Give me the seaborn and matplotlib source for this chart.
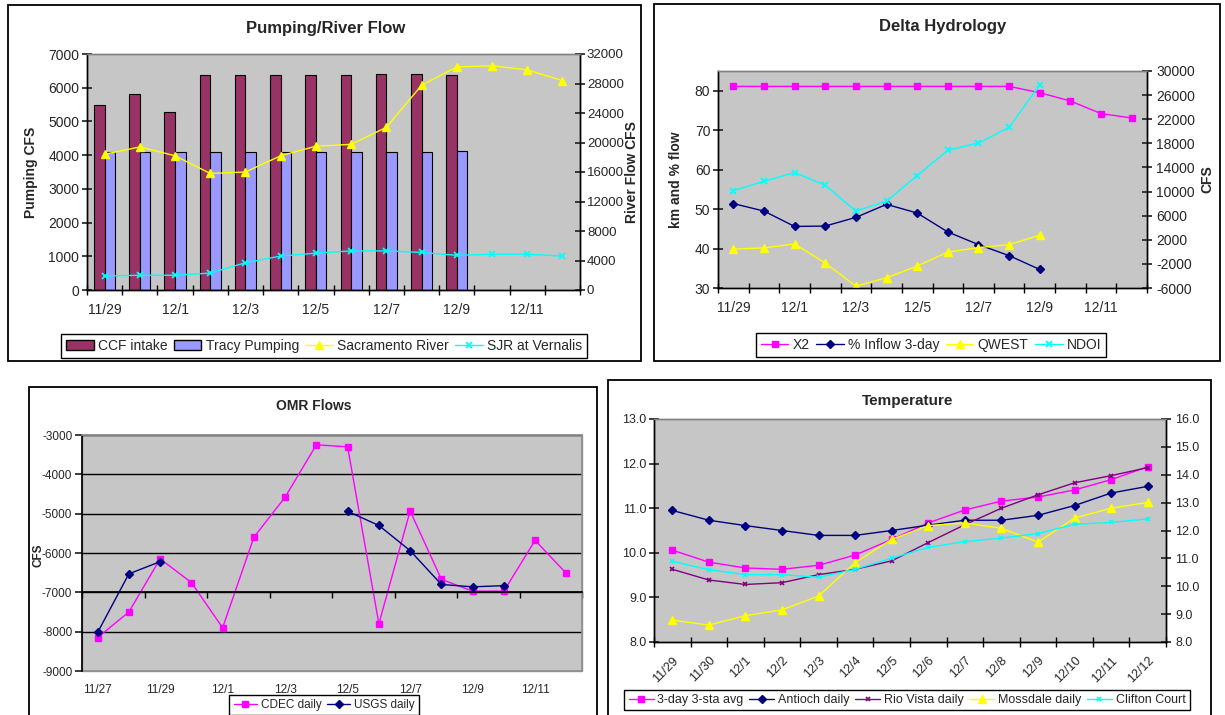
import numpy as np
import pandas as pd
import matplotlib
matplotlib.use("Agg")
import matplotlib.pyplot as plt
import seaborn as sns
from matplotlib.lines import Line2D
from matplotlib.patches import Patch, Rectangle

sns.set_theme(style="white")
plt.rcParams['font.family'] = ['Liberation Sans', 'DejaVu Sans']
plt.rcParams['axes.unicode_minus'] = False

# ---------------- data ----------------
dates14 = ['11/29', '11/30', '12/1', '12/2', '12/3', '12/4', '12/5', '12/6',
           '12/7', '12/8', '12/9', '12/10', '12/11', '12/12']

ccf_intake = [5480, 5800, 5280, 6370, 6370, 6370, 6370, 6370, 6400, 6400, 6370]
tracy_pumping = [4100, 4100, 4080, 4100, 4100, 4100, 4100, 4100, 4100, 4100, 4130]
sacramento = [18400, 19400, 18200, 15800, 16000, 18200, 19500, 19750, 22050,
              27750, 30250, 30400, 29850, 28400]
sjr_vernalis = [1900, 2000, 2000, 2300, 3700, 4600, 5000, 5300, 5300, 5100,
                4700, 4850, 4850, 4600]

x2 = [81.1, 81.1, 81.1, 81.1, 81.1, 81.1, 81.1, 81.1, 81.1, 81.1, 79.5, 77.4, 74.2, 73.1]
inflow_3day = [51.4, 49.5, 45.6, 45.7, 47.9, 51.2, 49.0, 44.2, 41.0, 38.2, 34.7]
qwest = [450, 650, 1300, -1850, -5700, -4300, -2350, -50, 700, 1200, 2750]
ndoi = [10150, 11700, 13150, 11050, 6750, 8400, 12650, 16850, 18050, 20650, 27700]

omr_dates = ['11/27', '11/28', '11/29', '11/30', '12/1', '12/2', '12/3', '12/4',
             '12/5', '12/6', '12/7', '12/8', '12/9', '12/10', '12/11', '12/12']
cdec_daily = [-8150, -7500, -6150, -6750, -7900, -5600, -4580, -3250, -3300,
              -7800, -4930, -6670, -6970, -6970, -5680, -6520]
usgs_daily = [-8020, -6530, -6220, np.nan, np.nan, np.nan, np.nan, np.nan,
              -4940, -5300, -5940, -6800, -6860, -6830, np.nan, np.nan]

temp_3day_avg = [10.06, 9.79, 9.66, 9.63, 9.72, 9.95, 10.30, 10.67, 10.96, 11.16,
                 11.25, 11.41, 11.64, 11.93]
antioch_daily = [10.95, 10.73, 10.61, 10.50, 10.39, 10.39, 10.50, 10.62, 10.73,
                 10.73, 10.84, 11.06, 11.34, 11.49]
rio_vista_daily = [9.63, 9.39, 9.29, 9.33, 9.51, 9.63, 9.82, 10.23, 10.63, 11.00,
                   11.30, 11.57, 11.73, 11.91]
mossdale_daily = [8.49, 8.38, 8.59, 8.72, 9.03, 9.78, 10.30, 10.61, 10.67, 10.55,
                  10.24, 10.78, 11.00, 11.13]
clifton_court = [9.81, 9.62, 9.51, 9.51, 9.45, 9.63, 9.88, 10.12, 10.25, 10.33,
                 10.43, 10.64, 10.68, 10.76]

# ---------------- style ----------------
W, H = 1225, 715
GRAY_BG = '#C6C6C6'
MAGENTA = '#FF00FF'
NAVY = '#000080'
YELLOW = '#FFFF00'
CYAN = '#00FFFF'
PURPLE = '#800080'
MAROON = '#993366'
PERI = '#9999FF'

fig = plt.figure(figsize=(W / 100, H / 100), dpi=100)
fig.patch.set_facecolor('white')


def px_rect(x0, y0, x1, y1):
    return [x0 / W, 1 - y1 / H, (x1 - x0) / W, (y1 - y0) / H]


def fx(x):
    return x / W


def fy(y):
    return 1 - y / H


def panel_box(x0, y0, x1, y1):
    fig.patches.append(Rectangle((fx(x0), fy(y1)), (x1 - x0) / W, (y1 - y0) / H,
                                 transform=fig.transFigure, fill=False,
                                 edgecolor='black', linewidth=1.3, zorder=0))


def line(ax, y, color, marker, ms, mec=None, mfc=None, mew=1.0, lw=1.0, x=None):
    if x is None:
        x = np.arange(len(y))
    df = pd.DataFrame({'x': x, 'y': y})
    df['seg'] = df['y'].isna().cumsum()
    df = df.dropna()
    sns.lineplot(data=df, x='x', y='y', units='seg', estimator=None, ax=ax,
                 color=color, marker=marker, markersize=ms,
                 markeredgecolor=mec or color, markerfacecolor=mfc or color,
                 markeredgewidth=mew, linewidth=lw, legend=False, sort=False)
    ax.set_xlabel('')
    ax.set_ylabel('')


def handle(color, marker, ms, mew=1.0):
    return Line2D([], [], color=color, marker=marker, markersize=ms,
                  markeredgecolor=color, markerfacecolor=color,
                  markeredgewidth=mew, linewidth=1.0)


def cat_axis(ax, n, label_step, labels, minor_step=1, fs=10, length=7,
             direction='inout', pad=9):
    ax.set_xlim(-0.5, n - 0.5)
    ax.set_xticks(np.arange(0, n, label_step))
    ax.set_xticklabels(labels)
    ax.set_xticks(np.arange(-0.5, n, minor_step), minor=True)
    ax.tick_params(axis='x', which='major', length=0, labelsize=fs, pad=pad)
    ax.tick_params(axis='x', which='minor', length=length, width=1,
                   direction=direction, color='black', bottom=True)


def style_spines(ax, top_color='#808080'):
    for s in ['left', 'bottom', 'right']:
        ax.spines[s].set_color('black')
        ax.spines[s].set_linewidth(1)
    ax.spines['top'].set_color(top_color)
    ax.spines['top'].set_linewidth(1)


def legend(handles, labels, cx, cy, fs, ncol, hl=2.0, cs=0.45):
    lg = fig.legend(handles, labels, loc='center',
                    bbox_to_anchor=(fx(cx), fy(cy)), ncol=ncol, fontsize=fs,
                    frameon=True, fancybox=False, framealpha=1,
                    edgecolor='black', handlelength=hl, columnspacing=cs,
                    handletextpad=0.3, borderpad=0.35, borderaxespad=0)
    lg.get_frame().set_linewidth(1)
    return lg


# ============ Panel 1: Pumping/River Flow ============
panel_box(8, 5, 641, 361)
ax1 = fig.add_axes(px_rect(87, 54, 580, 290))
ax1.set_facecolor(GRAY_BG)
bars = pd.DataFrame({
    'date': dates14[:len(ccf_intake)] + dates14[:len(tracy_pumping)],
    'cfs': ccf_intake + tracy_pumping,
    'series': ['CCF intake'] * len(ccf_intake) + ['Tracy Pumping'] * len(tracy_pumping),
})
sns.barplot(data=bars, x='date', y='cfs', hue='series', order=dates14,
            hue_order=['CCF intake', 'Tracy Pumping'], palette=[MAROON, PERI],
            width=0.6, saturation=1, edgecolor='black', linewidth=0.8,
            errorbar=None, legend=False, ax=ax1)
ax1.set_ylim(0, 7000)
ax1.set_yticks(range(0, 7001, 1000))
cat_axis(ax1, 14, 2, dates14[::2])
ax1.tick_params(axis='y', which='major', length=7, direction='inout',
                labelsize=10, left=True, pad=2)
ax1.set_xlabel('')
ax1.set_ylabel('Pumping CFS', fontsize=10, fontweight='bold')
ax1.yaxis.set_label_coords(-0.099, 0.5)
style_spines(ax1)

ax1b = ax1.twinx()
line(ax1b, sacramento, YELLOW, '^', 6)
line(ax1b, sjr_vernalis, CYAN, 'x', 4, mew=1.3)
ax1b.set_ylim(0, 32000)
ax1b.set_yticks(range(0, 32001, 4000))
ax1b.set_xlim(-0.5, 13.5)
ax1b.tick_params(axis='y', length=7, direction='inout', labelsize=9.5, right=True, pad=1.5)
ax1b.set_ylabel('River Flow CFS', fontsize=10, fontweight='bold')
ax1b.yaxis.set_label_position('right')
ax1b.yaxis.set_label_coords(1.092, 0.5)
style_spines(ax1b)
fig.text(fx(326), fy(29), 'Pumping/River Flow', ha='center', va='center',
         fontsize=12, fontweight='bold')
legend([Patch(facecolor=MAROON, edgecolor='black'),
        Patch(facecolor=PERI, edgecolor='black'),
        handle(YELLOW, '^', 6), handle(CYAN, 'x', 4, 1.3)],
       ['CCF intake', 'Tracy Pumping', 'Sacramento River', 'SJR at Vernalis'],
       324, 346, 10, 4)

# ============ Panel 2: Delta Hydrology ============
panel_box(654, 4, 1220, 361)
ax2 = fig.add_axes(px_rect(718, 71, 1147, 288))
ax2.set_facecolor(GRAY_BG)
line(ax2, x2, MAGENTA, 's', 5)
line(ax2, inflow_3day, NAVY, 'D', 4.5)
ax2.set_ylim(30, 85)
ax2.set_yticks(range(30, 81, 10))
cat_axis(ax2, 14, 2, dates14[::2])
ax2.tick_params(axis='y', length=7, direction='inout', labelsize=10, left=True, pad=2)
ax2.set_ylabel('km and % flow', fontsize=10, fontweight='bold')
ax2.yaxis.set_label_coords(-0.082, 0.5)
style_spines(ax2)

ax2b = ax2.twinx()
line(ax2b, qwest, YELLOW, '^', 6)
line(ax2b, ndoi, CYAN, 'x', 4, mew=1.3)
ax2b.set_ylim(-6000, 30000)
ax2b.set_yticks(range(-6000, 30001, 4000))
ax2b.set_xlim(-0.5, 13.5)
ax2b.tick_params(axis='y', length=7, direction='inout', labelsize=10, right=True, pad=3)
ax2b.set_ylabel('CFS', fontsize=10, fontweight='bold')
ax2b.yaxis.set_label_position('right')
ax2b.yaxis.set_label_coords(1.125, 0.5)
style_spines(ax2b)
fig.text(fx(943), fy(27), 'Delta Hydrology', ha='center', va='center',
         fontsize=12, fontweight='bold')
legend([handle(MAGENTA, 's', 5), handle(NAVY, 'D', 4.5),
        handle(YELLOW, '^', 6), handle(CYAN, 'x', 4, 1.3)],
       ['X2', '% Inflow 3-day', 'QWEST', 'NDOI'],
       931, 345, 10, 4)

# ============ Panel 3: OMR Flows ============
panel_box(29, 387, 597, 730)
ax3 = fig.add_axes(px_rect(82, 435, 582, 671))
ax3.set_facecolor(GRAY_BG)
ax3.set_axisbelow(True)
ax3.yaxis.grid(True, color='black', linewidth=1)
line(ax3, cdec_daily, MAGENTA, 's', 4.5)
line(ax3, usgs_daily, NAVY, 'D', 4)
ax3.set_ylim(-9000, -3000)
ax3.set_yticks(range(-9000, -2999, 1000))
ax3.set_xlim(-0.5, 15.5)
ax3.set_xticks(np.arange(0, 16, 2))
ax3.set_xticklabels(omr_dates[::2])
ax3.set_xticks(np.arange(-0.5, 16, 2), minor=True)
ax3.spines['bottom'].set_position(('data', -7000))
ax3.tick_params(axis='x', which='major', length=0, labelsize=8.5, pad=66)
ax3.tick_params(axis='x', which='minor', length=4, width=1, direction='out',
                color='black', bottom=True)
ax3.tick_params(axis='y', length=5, direction='out', labelsize=8.5, left=True, pad=2)
for s in ['top', 'right']:
    ax3.spines[s].set_color('#909090')
ax3.spines['left'].set_color('black')
ax3.spines['bottom'].set_color('black')
ax3.patch.set_edgecolor('#909090')
ax3.patch.set_linewidth(1)
ax3.set_ylabel('CFS', fontsize=8.5, fontweight='bold')
ax3.yaxis.set_label_coords(-0.076, 0.49)
fig.text(fx(314), fy(406), 'OMR Flows', ha='center', va='center',
         fontsize=10, fontweight='bold')
legend([handle(MAGENTA, 's', 4.5), handle(NAVY, 'D', 4)],
       ['CDEC daily', 'USGS daily'], 324, 705, 8.5, 2)

# ============ Panel 4: Temperature ============
panel_box(608, 380, 1211, 730)
ax4 = fig.add_axes(px_rect(654, 419, 1166, 642))
ax4.set_facecolor(GRAY_BG)
line(ax4, temp_3day_avg, MAGENTA, 's', 4.5)
line(ax4, antioch_daily, NAVY, 'D', 4)
line(ax4, rio_vista_daily, PURPLE, 'x', 3.5, mew=1.2)
line(ax4, mossdale_daily, YELLOW, '^', 6)
line(ax4, clifton_court, CYAN, 'x', 3.5, mew=1.2)
ax4.set_ylim(8, 13)
ax4.set_yticks(np.arange(8, 13.01, 1))
ax4.set_yticklabels([f'{v:.1f}' for v in np.arange(8, 13.01, 1)])
cat_axis(ax4, 14, 1, dates14, fs=9, pad=9)
for lab in ax4.get_xticklabels():
    lab.set_rotation(45)
    lab.set_ha('right')
    lab.set_rotation_mode('anchor')
ax4.tick_params(axis='y', length=7, direction='inout', labelsize=9, left=True, pad=2)
style_spines(ax4)

ax4b = ax4.twinx()
ax4b.set_ylim(8, 16)
ax4b.set_yticks(np.arange(8, 16.01, 1))
ax4b.set_yticklabels([f'{v:.1f}' for v in np.arange(8, 16.01, 1)])
ax4b.tick_params(axis='y', length=7, direction='inout', labelsize=9, right=True, pad=3)
style_spines(ax4b)
fig.text(fx(908), fy(401), 'Temperature', ha='center', va='center',
         fontsize=11, fontweight='bold')
legend([handle(MAGENTA, 's', 4.5), handle(NAVY, 'D', 4),
        handle(PURPLE, 'x', 3.5, 1.2), handle(YELLOW, '^', 6),
        handle(CYAN, 'x', 3.5, 1.2)],
       ['3-day 3-sta avg', 'Antioch daily', 'Rio Vista daily', 'Mossdale daily',
        'Clifton Court'], 907, 700, 9, 5)

fig.savefig('out.png', dpi=100)
